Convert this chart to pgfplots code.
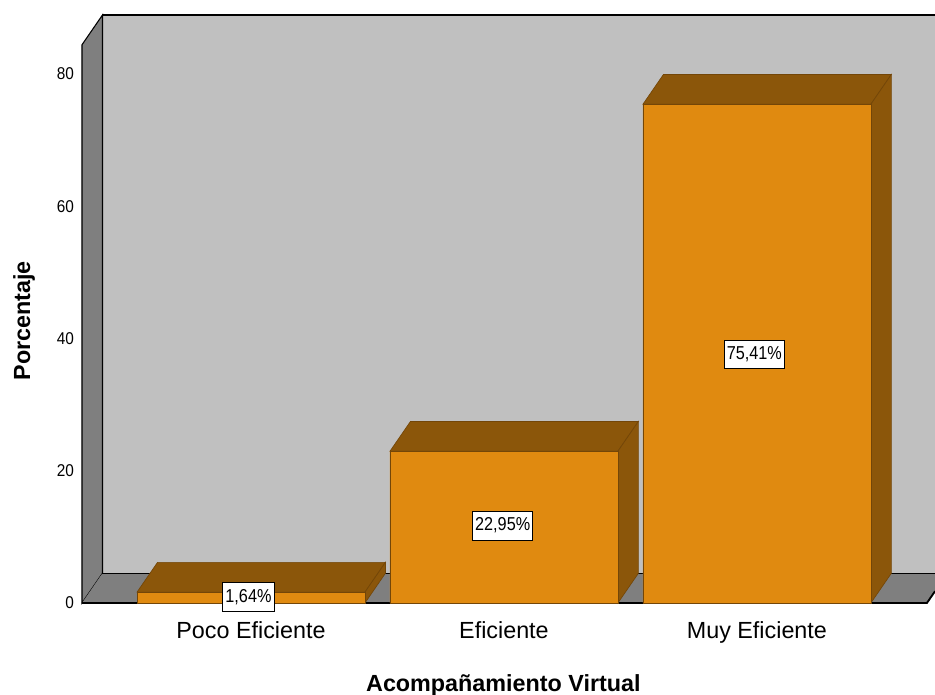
\documentclass[border=0pt]{standalone}
\usepackage{fontspec}
\setmainfont{Liberation Sans}
\newfontfamily\narrowfont[FakeStretch=0.87]{Liberation Sans}
\newfontfamily\tickfont[FakeStretch=0.9]{Liberation Sans}
\usepackage{pgfplots}
\pgfplotsset{compat=1.18}
\definecolor{wallgray}{RGB}{192,192,192}
\definecolor{sidegray}{RGB}{127,127,127}
\definecolor{barfront}{RGB}{224,138,16}
\definecolor{bartop}{RGB}{139,86,10}
\definecolor{baredge}{RGB}{115,70,8}
\begin{document}
\begin{tikzpicture}
\path[use as bounding box] (-61.5pt,-69pt) rectangle (639.75pt,452.25pt);
\begin{axis}[
  at={(0,0)}, anchor=south west,
  width=639.75pt, height=441pt, scale only axis,
  xmin=-0.668, xmax=2.704, ymin=0, ymax=88.9,
  clip=false,
  axis line style={draw=none},
  major tick length=0pt,
  /pgf/number format/assume math mode=true,
  xtick={0,1,2},
  xticklabels={Poco Eficiente, Eficiente, Muy Eficiente},
  xticklabel style={font=\fontsize{17.5}{20}\selectfont, anchor=base, yshift=-27pt},
  ytick={0,20,40,60,80},
  yticklabel style={font=\tickfont\fontsize{12.8}{14}\selectfont, xshift=-2.5pt},
  xlabel={Acompañamiento Virtual},
  ylabel={Porcentaje},
  xlabel style={font=\bfseries\fontsize{17.5}{20}\selectfont, at={(axis description cs:0.494,0)}, anchor=center, yshift=-61.5pt},
  ylabel style={font=\bfseries\fontsize{17.5}{20}\selectfont, at={(axis description cs:-0.068,0.48)}, anchor=center},
]
% back wall
\addplot[fill=wallgray, draw=none] coordinates {(-0.587,4.5) (2.704,4.5) (2.704,88.9) (-0.587,88.9)} -- cycle;
\addplot[draw=black, line width=0.8pt] coordinates {(2.704,88.9) (-0.587,88.9) (-0.587,4.5) (2.704,4.5)};
% left wall
\addplot[fill=sidegray, draw=black, line width=0.8pt] coordinates {(-0.668,0) (-0.668,84.4) (-0.587,88.9) (-0.587,4.5)} -- cycle;
% floor
\addplot[fill=sidegray, draw=none] coordinates {(-0.668,0) (2.672,0) (2.704,1.78) (2.704,4.5) (-0.587,4.5)} -- cycle;
\addplot[draw=black, line width=0.8pt] coordinates {(-0.587,4.5) (2.704,4.5)};
\addplot[draw=black, line width=1.4pt] coordinates {(-0.668,0) (2.672,0) (2.704,1.78)};
% bar tops and sides
\addplot[fill=bartop, draw=baredge, line width=0.5pt] coordinates {(-0.4505,1.64) (0.4505,1.64) (0.5315,6.14) (-0.3695,6.14)} -- cycle;
\addplot[fill=bartop, draw=baredge, line width=0.5pt] coordinates {(0.4505,0) (0.4505,1.64) (0.5315,6.14) (0.5315,4.5)} -- cycle;
\addplot[fill=bartop, draw=baredge, line width=0.5pt] coordinates {(0.5495,22.95) (1.4505,22.95) (1.5315,27.45) (0.6305,27.45)} -- cycle;
\addplot[fill=bartop, draw=baredge, line width=0.5pt] coordinates {(1.4505,0) (1.4505,22.95) (1.5315,27.45) (1.5315,4.5)} -- cycle;
\addplot[fill=bartop, draw=baredge, line width=0.5pt] coordinates {(1.5495,75.41) (2.4505,75.41) (2.5315,79.91) (1.6305,79.91)} -- cycle;
\addplot[fill=bartop, draw=baredge, line width=0.5pt] coordinates {(2.4505,0) (2.4505,75.41) (2.5315,79.91) (2.5315,4.5)} -- cycle;
% bar fronts
\addplot[ybar, bar width=0.901, bar shift=0pt, fill=barfront, draw=baredge, line width=0.5pt] coordinates {(0,1.64) (1,22.95) (2,75.41)};
% labels
\addplot[only marks, mark=*, mark size=0pt, mark options={draw=none, fill=none},
  nodes near coords, point meta=explicit symbolic,
  every node near coord/.style={anchor=center, fill=white, draw=black, line width=0.6pt,
    inner xsep=2pt, inner ysep=5pt, font=\narrowfont\fontsize{14}{16}\selectfont, text=black}]
  coordinates {(-0.01,0.9) [1,64\%] (0.995,11.7) [22,95\%] (1.99,37.6) [75,41\%]};
\end{axis}
\end{tikzpicture}
\end{document}
